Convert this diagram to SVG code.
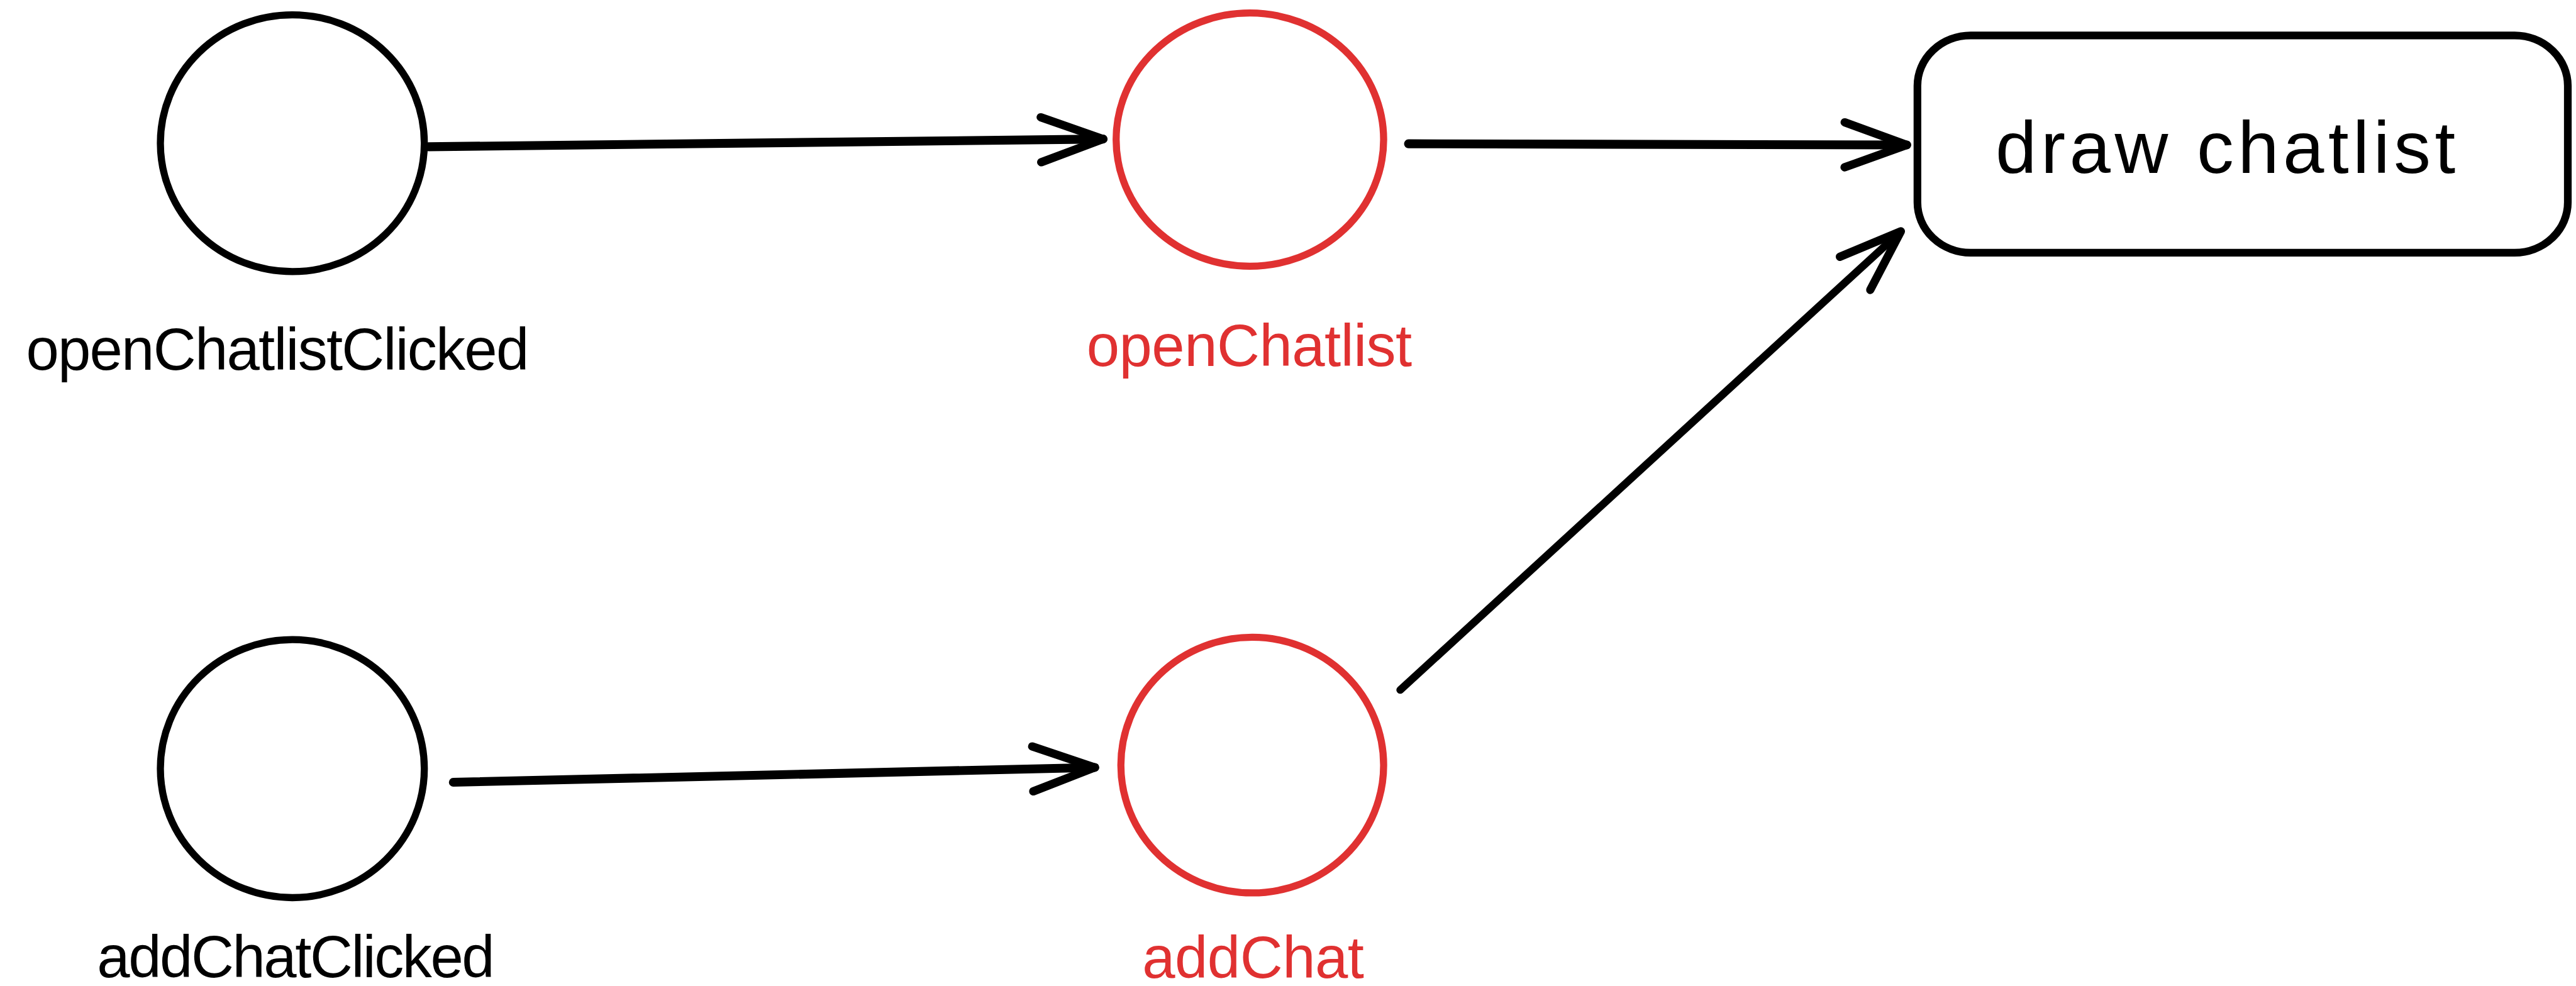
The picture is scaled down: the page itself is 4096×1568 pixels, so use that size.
<svg xmlns="http://www.w3.org/2000/svg" width="4096" height="1568" viewBox="0 0 4096 1568">
<style>
.bk{fill:none;stroke:#000;stroke-width:12;stroke-linecap:round;stroke-linejoin:round}
.rd{fill:none;stroke:#e03131;stroke-width:12;stroke-linecap:round;stroke-linejoin:round}
.conn{fill:none;stroke:#000;stroke-width:15;stroke-linecap:round}
.lbl{font-family:"Liberation Sans","Noto Sans",sans-serif;font-size:100px;fill:#000}
.lblr{font-family:"Liberation Sans","Noto Sans",sans-serif;font-size:100px;fill:#e03131}
.box{font-family:"Liberation Sans","Noto Sans",sans-serif;font-size:125px;fill:#000}
</style>
<defs>
<marker id="ah" markerUnits="userSpaceOnUse" viewBox="-120 -50 130 100" refX="0" refY="0" markerWidth="130" markerHeight="100" orient="auto" overflow="visible">
<path d="M -105 -38 L 0 0 L -105 38" fill="none" stroke="#000" stroke-width="14" stroke-linecap="round" stroke-linejoin="round"/>
</marker>
</defs>
<rect width="4096" height="1568" fill="#fff"/>
<g transform="scale(0.941)">
<g id="openChatlistClicked">
<ellipse class="bk" cx="494" cy="242" rx="223" ry="217"/>
<text class="lbl" x="44" y="625" textLength="850">openChatlistClicked</text>
</g>
<g id="openChatlist">
<ellipse class="rd" cx="2112" cy="236" rx="226" ry="214"/>
<text class="lblr" x="1836" y="618" textLength="550">openChatlist</text>
</g>
<g id="addChatClicked">
<ellipse class="bk" cx="494" cy="1299" rx="223" ry="218"/>
<text class="lbl" x="164" y="1651" textLength="672">addChatClicked</text>
</g>
<g id="addChat">
<ellipse class="rd" cx="2116" cy="1293" rx="222" ry="216"/>
<text class="lblr" x="1930" y="1653" textLength="375">addChat</text>
</g>
<g id="drawChatlist">
<rect class="bk" x="3240" y="60" width="1099" height="367" rx="90" ry="85" style="stroke-width:13"/>
<text class="box" x="3372" y="292" textLength="777">draw chatlist</text>
</g>
<g id="connectors">
<line class="conn" x1="724" y1="248" x2="1864" y2="235" marker-end="url(#ah)"/>
<line class="conn" x1="2380" y1="243" x2="3222" y2="245" marker-end="url(#ah)"/>
<line class="conn" x1="766" y1="1322" x2="1850" y2="1297" marker-end="url(#ah)"/>
<line class="conn" x1="2366" y1="1166" x2="3212" y2="391" marker-end="url(#ah)" style="stroke-width:13"/>
</g>
</g>
</svg>
